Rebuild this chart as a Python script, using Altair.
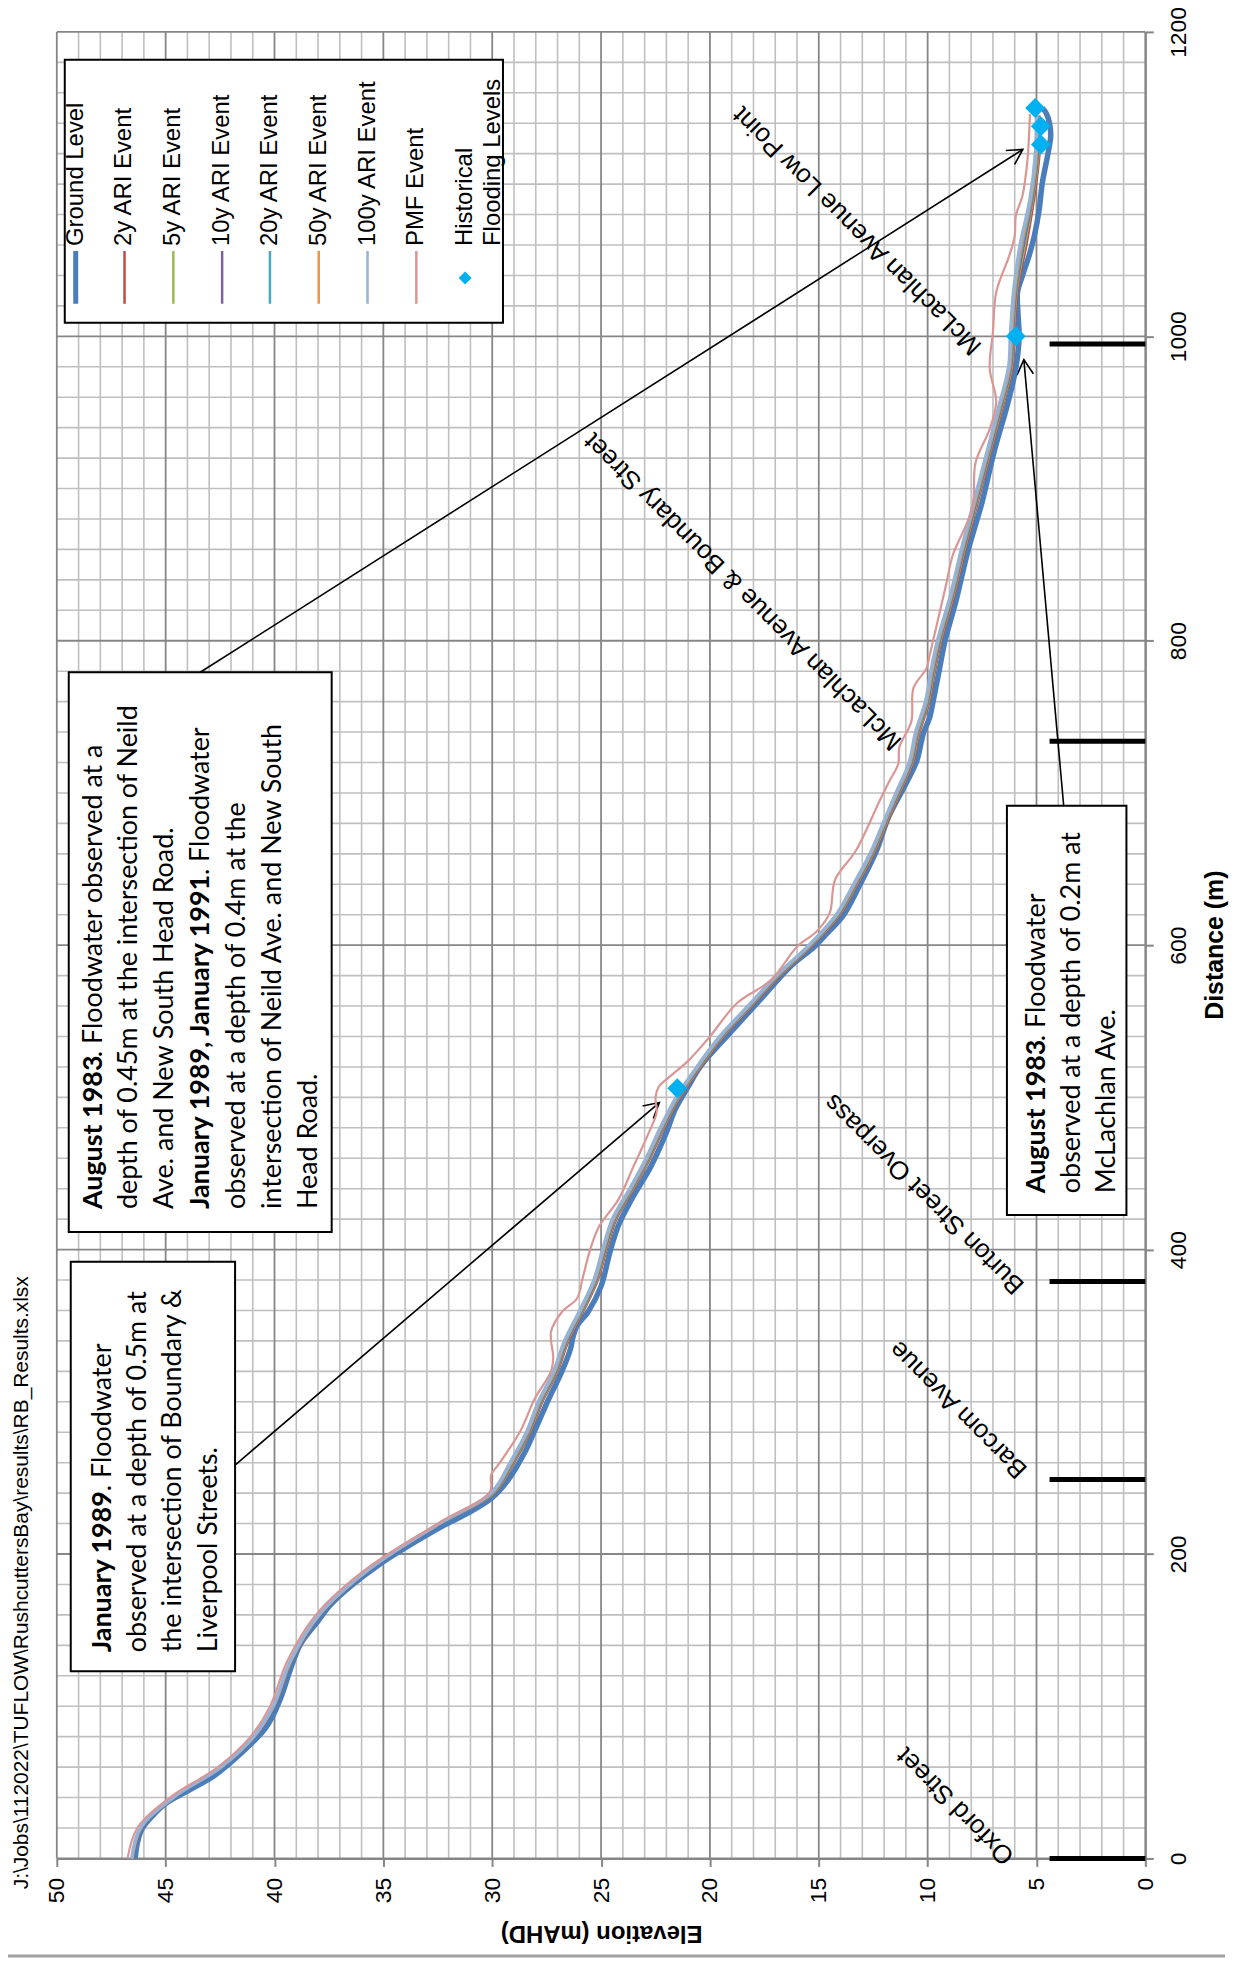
import math
import altair as alt
import pandas as pd

# ---------------- data ----------------
ground_dist = [0, 10, 19, 28, 36, 45, 54, 62, 75, 84, 93, 106, 123, 141, 156, 167, 180, 193, 204, 219,
               227, 237, 248, 267, 281, 302, 320, 335, 342, 350, 359, 376, 398, 416, 433, 455, 477, 492, 507, 521,
               542, 564, 586, 599, 608, 619, 640, 662, 684, 706, 721, 733, 739, 750, 760, 782, 800, 826, 859, 891,
               924, 957, 979, 1000, 1015, 1029, 1040, 1053, 1066, 1083, 1101, 1118, 1131, 1140, 1147, 1150]
ground_elev = [46.4, 46.3, 46.1, 45.6, 45.0, 43.9, 42.8, 42.1, 41.1, 40.5, 40.1, 39.7, 39.3, 38.8, 38.0, 37.4, 36.4, 35.2, 34.0, 32.2,
               31.1, 30.0, 29.3, 28.5, 28.05, 27.4, 26.8, 26.4, 26.3, 26.1, 25.6, 25.0, 24.6, 24.2, 23.6, 22.7, 22.0, 21.6, 21.0, 20.4,
               19.1, 17.7, 16.3, 15.2, 14.6, 13.9, 13.1, 12.35, 11.8, 11.0, 10.5, 10.3, 10.2, 9.9, 9.75, 9.45, 9.2, 8.7, 8.15, 7.5,
               6.95, 6.3, 5.95, 5.8, 5.85, 5.87, 5.64, 5.34, 5.1, 4.88, 4.73, 4.5, 4.35, 4.4, 4.57, 4.73]

flood_dist = [0, 20, 40, 60, 80, 100, 130, 160, 190, 220, 240, 260, 280, 300, 320, 340, 360, 380, 400, 420,
              440, 460, 480, 500, 520, 540, 560, 580, 600, 620, 640, 660, 680, 700, 720, 740, 760, 780, 800, 830,
              860, 890, 920, 950, 980, 1000, 1030, 1060, 1090, 1120, 1145]
ari_2y = [46.48, 46.08, 44.58, 42.38, 40.88, 39.98, 39.18, 37.88, 35.58, 32.32, 29.87, 28.98, 28.23, 27.68, 26.98, 26.48, 25.78, 25.13, 24.73, 24.28,
          23.48, 22.73, 22.08, 21.35, 20.40, 19.35, 18.05, 16.75, 15.25, 14.00, 13.20, 12.45, 11.85, 11.25, 10.65, 10.35, 9.90, 9.65, 9.35, 8.75,
          8.25, 7.70, 7.15, 6.60, 6.08, 6.00, 5.85, 5.45, 5.10, 4.85, 4.85]
ari_5y = [46.50, 46.10, 44.60, 42.40, 40.90, 40.00, 39.20, 37.90, 35.60, 32.34, 29.90, 29.02, 28.27, 27.72, 27.02, 26.52, 25.82, 25.17, 24.77, 24.32,
          23.52, 22.77, 22.12, 21.39, 20.44, 19.39, 18.09, 16.79, 15.29, 14.04, 13.24, 12.49, 11.89, 11.29, 10.69, 10.39, 9.94, 9.69, 9.39, 8.79,
          8.29, 7.74, 7.19, 6.64, 6.12, 6.04, 5.89, 5.52, 5.15, 4.89, 4.88]
ari_10y = [46.51, 46.11, 44.61, 42.41, 40.91, 40.01, 39.21, 37.91, 35.61, 32.36, 29.93, 29.05, 28.30, 27.75, 27.05, 26.55, 25.85, 25.20, 24.80, 24.35,
           23.55, 22.80, 22.15, 21.42, 20.47, 19.42, 18.12, 16.82, 15.32, 14.07, 13.27, 12.52, 11.92, 11.32, 10.72, 10.42, 9.97, 9.72, 9.42, 8.82,
           8.32, 7.77, 7.22, 6.67, 6.15, 6.07, 5.92, 5.57, 5.18, 4.92, 4.91]
ari_20y = [46.52, 46.12, 44.62, 42.42, 40.92, 40.02, 39.22, 37.92, 35.62, 32.38, 29.96, 29.08, 28.33, 27.78, 27.08, 26.58, 25.88, 25.23, 24.83, 24.38,
           23.58, 22.83, 22.18, 21.45, 20.50, 19.45, 18.15, 16.85, 15.35, 14.10, 13.30, 12.55, 11.95, 11.35, 10.75, 10.45, 10.00, 9.75, 9.45, 8.85,
           8.35, 7.80, 7.25, 6.70, 6.18, 6.10, 5.95, 5.62, 5.21, 4.95, 4.94]
ari_50y = [46.53, 46.13, 44.63, 42.43, 40.93, 40.03, 39.23, 37.93, 35.63, 32.40, 29.99, 29.11, 28.36, 27.81, 27.11, 26.61, 25.91, 25.26, 24.86, 24.41,
           23.61, 22.86, 22.21, 21.48, 20.53, 19.48, 18.18, 16.88, 15.38, 14.13, 13.33, 12.58, 11.98, 11.38, 10.78, 10.48, 10.03, 9.78, 9.48, 8.88,
           8.38, 7.83, 7.28, 6.73, 6.21, 6.13, 5.98, 5.67, 5.24, 4.98, 4.97]
ari_100y = [46.56, 46.16, 44.66, 42.46, 40.96, 40.06, 39.26, 37.96, 35.66, 32.44, 30.05, 29.18, 28.43, 27.88, 27.18, 26.68, 25.98, 25.33, 24.93, 24.48,
            23.68, 22.93, 22.28, 21.55, 20.60, 19.55, 18.25, 16.95, 15.45, 14.20, 13.40, 12.65, 12.05, 11.45, 10.85, 10.55, 10.10, 9.85, 9.55, 8.95,
            8.45, 7.90, 7.35, 6.80, 6.28, 6.20, 6.05, 5.75, 5.30, 5.05, 5.00]

pmf_dist = [0, 20, 40, 60, 80, 100, 130, 160, 190, 220, 241, 252, 259, 281, 302, 320, 329, 346, 359, 368, 381,
            400, 415, 433, 455, 477, 490, 500, 507, 513, 524, 540, 562, 577, 599, 609, 621, 643, 662, 695, 708,
            719, 730, 747, 769, 782, 791, 837, 856, 887, 917, 939, 957, 979, 1003, 1029, 1053, 1066, 1079, 1092, 1105,
            1118, 1146]
pmf_elev = [46.75, 46.3, 44.8, 42.6, 41.1, 40.2, 39.4, 38.1, 35.8, 32.5, 30.1, 30.05, 29.7, 28.7, 28.05, 27.3, 27.2, 27.3, 26.8, 26.1, 25.85,
            25.5, 25.1, 24.2, 23.5, 22.8, 22.45, 22.5, 22.35, 21.9, 21.0, 20.0, 18.75, 17.2, 16.0, 15.1, 14.5, 14.25, 13.3, 12.2, 11.75,
            11.35, 11.3, 10.75, 10.65, 10.05, 9.9, 9.15, 8.85, 7.95, 7.8, 7.15, 6.85, 7.15, 7.0, 6.85, 6.25, 6.0, 5.95, 5.65, 5.5,
            5.4, 5.3]

hist_dist = [506, 1000, 1126, 1138, 1150]
hist_elev = [21.5, 5.95, 4.8, 4.8, 5.06]

road_names = ["Oxford Street", "Barcom Avenue", "Burton Street Overpass",
              "McLachlan Avenue & Boundary Street", "McLachlan Avenue Low Point"]
road_dist = [0, 249, 379, 734, 995]

series_names = ["Ground Level", "2y ARI Event", "5y ARI Event", "10y ARI Event", "20y ARI Event",
                "50y ARI Event", "100y ARI Event", "PMF Event"]
series_dist = [ground_dist, flood_dist, flood_dist, flood_dist, flood_dist, flood_dist, flood_dist, pmf_dist]
series_elev = [ground_elev, ari_2y, ari_5y, ari_10y, ari_20y, ari_50y, ari_100y, pmf_elev]

elev_ticks = list(range(0, 51, 5))
dist_ticks = list(range(0, 1201, 200))

box1_lines = [("January 1989", ". Floodwater"), ("", "observed at a depth of 0.5m at"),
              ("", "the intersection of Boundary &"), ("", "Liverpool Streets.")]
box2_lines = [("August 1983", ". Floodwater observed at a"), ("", "depth of 0.45m at the intersection of Neild"),
              ("", "Ave. and New South Head Road."), ("January 1989, January 1991", ". Floodwater"),
              ("", "observed at a depth of 0.4m at the"), ("", "intersection of Neild Ave. and New South"),
              ("", "Head Road.")]
box3_lines = [("August 1983", ". Floodwater"), ("", "observed at a depth of 0.2m at"), ("", "McLachlan Ave.")]

file_path = "J:\\Jobs\\112022\\TUFLOW\\RushcuttersBay\\results\\RB_Results.xlsx"

# ---------------- styles ----------------
series_colors = ["#4A7EBB", "#BE4B48", "#98B954", "#7D60A0", "#46AAC5", "#F69240", "#95B3D7", "#D99694"]
series_widths = [5.5, 1.8, 1.8, 1.8, 1.8, 1.8, 3.5, 2.2]
legend_widths = [5, 2.5, 2.5, 2.5, 2.5, 2.5, 2.5, 2.5]
HIST_COLOR = "#00B0F0"
SANS = "Liberation Sans"
BOXFONT = "Lato"
BOX_FS = 27
GRID_MINOR = "#BFBFBF"
GRID_MAJOR = "#868686"

# ---------------- layout (page pixels) ----------------
W, H = 1093, 1834
PL, PT = 57, 28


def e_at(px):
    return 50.0 - (px - PL) * 50.0 / W


def d_at(py):
    return 1200.0 - (py - PT) * 1200.0 / H


XS = alt.Scale(domain=[0, 50], reverse=True, nice=False, zero=False)
YS = alt.Scale(domain=[0, 1200], nice=False, zero=False)
XA = alt.Axis(values=elev_ticks, orient="bottom", labelAngle=270, labelAlign="right", labelBaseline="middle",
              labelFont=SANS, labelFontSize=23, labelColor="black", labelPadding=11, tickSize=8, tickWidth=2,
              tickColor=GRID_MAJOR, domainColor=GRID_MAJOR, domainWidth=2, grid=False, title=None,
              labelFlush=False, labelOverlap=False, format="d")
YA = alt.Axis(values=dist_ticks, orient="right", labelAngle=270, labelAlign="center", labelBaseline="top",
              labelFont=SANS, labelFontSize=23, labelColor="black", labelPadding=14, tickSize=8, tickWidth=2,
              tickColor=GRID_MAJOR, domainColor=GRID_MAJOR, domainWidth=2, grid=False, title=None,
              labelFlush=False, labelOverlap=False, format="d")


def X(f):
    return alt.X(f, type="quantitative", scale=XS, axis=XA)


def Y(f):
    return alt.Y(f, type="quantitative", scale=YS, axis=YA)


layers = []

# grid
minor_e = [v for v in range(0, 51) if v % 5 != 0]
major_e = [v for v in range(0, 51, 5)]
minor_d = [v for v in range(0, 1201, 20) if v % 200 != 0]
major_d = [v for v in range(0, 1201, 200)]
layers.append(alt.Chart(pd.DataFrame({"e": minor_e})).mark_rule(color=GRID_MINOR, strokeWidth=1.6).encode(x=X("e")))
layers.append(alt.Chart(pd.DataFrame({"d": minor_d})).mark_rule(color=GRID_MINOR, strokeWidth=1.6).encode(y=Y("d")))
layers.append(alt.Chart(pd.DataFrame({"e": major_e})).mark_rule(color=GRID_MAJOR, strokeWidth=1.8).encode(x=X("e")))
layers.append(alt.Chart(pd.DataFrame({"d": major_d})).mark_rule(color=GRID_MAJOR, strokeWidth=1.8).encode(y=Y("d")))

# road location markers
mk = pd.DataFrame({"d": road_dist, "e1": [4.4] * len(road_dist), "e2": [0.0] * len(road_dist)})
layers.append(alt.Chart(mk).mark_rule(color="black", strokeWidth=5).encode(x=X("e1"), x2="e2:Q", y=Y("d")))

# road labels
lab_px = [(1014, 1864), (1027, 1476), (1024, 1291), (901, 745), (981, 348)]
rl = pd.DataFrame({"t": road_names, "e": [e_at(p[0]) for p in lab_px], "d": [d_at(p[1]) for p in lab_px]})
layers.append(alt.Chart(rl).mark_text(angle=225, align="left", baseline="middle", font=SANS, fontSize=26,
                                      color="black").encode(x=X("e"), y=Y("d"), text="t:N"))

# annotation boxes
boxes_px = [(71, 1263, 236, 1674), (69, 671, 333, 1233), (1011, 805, 1131, 1216)]
bx = pd.DataFrame({"e1": [e_at(b[0]) for b in boxes_px], "e2": [e_at(b[2]) for b in boxes_px],
                   "d1": [d_at(b[3]) for b in boxes_px], "d2": [d_at(b[1]) for b in boxes_px]})
layers.append(alt.Chart(bx).mark_rect(fill="white", stroke="black", strokeWidth=2).encode(
    x=X("e1"), x2="e2:Q", y=Y("d1"), y2="d2:Q"))

BOLD_W = {"J": 0.40, "a": 0.51, "n": 0.57, "u": 0.57, "r": 0.39, "y": 0.52, " ": 0.20, "1": 0.58, "9": 0.58,
          "8": 0.58, "3": 0.58, ",": 0.24, "A": 0.69, "g": 0.52, "s": 0.41, "t": 0.37}


def bold_width(s):
    return sum(BOLD_W.get(c, 0.55) for c in s) * BOX_FS


rows_b, rows_r = [], []
for lines, x0, sp, ystart in [(box1_lines, 103, 35.5, 1655), (box2_lines, 94, 36, 1210), (box3_lines, 1041, 35.5, 1194)]:
    for i, (b, r) in enumerate(lines):
        px = x0 + i * sp
        off = 0.0
        if b:
            rows_b.append({"t": b, "e": e_at(px), "d": d_at(ystart)})
            off = bold_width(b)
        rows_r.append({"t": r, "e": e_at(px), "d": d_at(ystart - off)})
layers.append(alt.Chart(pd.DataFrame(rows_b)).mark_text(angle=270, align="left", baseline="middle", font=BOXFONT,
                                                        fontSize=BOX_FS, fontWeight="bold", color="black").encode(
    x=X("e"), y=Y("d"), text="t:N"))
layers.append(alt.Chart(pd.DataFrame(rows_r)).mark_text(angle=270, align="left", baseline="middle", font=BOXFONT,
                                                        fontSize=BOX_FS, color="black").encode(
    x=X("e"), y=Y("d"), text="t:N"))

# arrows
arrows_px = [((236, 1467), (662, 1103)), ((201, 671), (1027, 146)), ((1068, 805), (1028, 357))]
ar = pd.DataFrame({"e1": [e_at(a[0][0]) for a in arrows_px], "d1": [d_at(a[0][1]) for a in arrows_px],
                   "e2": [e_at(a[1][0]) for a in arrows_px], "d2": [d_at(a[1][1]) for a in arrows_px]})
layers.append(alt.Chart(ar).mark_rule(color="black", strokeWidth=1.6).encode(x=X("e1"), x2="e2:Q", y=Y("d1"), y2="d2:Q"))
for (s, t) in arrows_px:
    ang = math.degrees(math.atan2(t[1] - s[1], t[0] - s[0])) % 360
    layers.append(alt.Chart(pd.DataFrame({"e": [e_at(t[0])], "d": [d_at(t[1])]})).mark_point(
        shape="M-1,-0.55L0,0L-1,0.55", filled=False, stroke="black", strokeWidth=1.6, size=900, angle=ang,
        opacity=1).encode(x=X("e"), y=Y("d")))

# legend
LX = [76, 125, 174, 223, 271, 320, 369, 418]
lb = pd.DataFrame({"e1": [e_at(65)], "e2": [e_at(505)], "d1": [d_at(320)], "d2": [d_at(56)]})
layers.append(alt.Chart(lb).mark_rect(fill="white", stroke="black", strokeWidth=2).encode(
    x=X("e1"), x2="e2:Q", y=Y("d1"), y2="d2:Q"))
for i, name in enumerate(series_names):
    ld = pd.DataFrame({"e": [e_at(LX[i])], "d1": [d_at(301)], "d2": [d_at(248)]})
    layers.append(alt.Chart(ld).mark_rule(color=series_colors[i], strokeWidth=legend_widths[i]).encode(
        x=X("e"), y=Y("d1"), y2="d2:Q"))
leg_text = series_names + ["Historical", "Flooding Levels"]
leg_x = LX + [467, 495]
lt = pd.DataFrame({"t": leg_text, "e": [e_at(v) for v in leg_x], "d": [d_at(243)] * len(leg_text)})
layers.append(alt.Chart(lt).mark_text(angle=270, align="left", baseline="middle", font=SANS, fontSize=24,
                                      color="black").encode(x=X("e"), y=Y("d"), text="t:N"))
layers.append(alt.Chart(pd.DataFrame({"e": [e_at(467)], "d": [d_at(275)]})).mark_point(
    shape="diamond", filled=True, color=HIST_COLOR, size=170, opacity=1).encode(x=X("e"), y=Y("d")))

# data series
for i, name in enumerate(series_names):
    df = pd.DataFrame({"d": series_dist[i], "e": series_elev[i]})
    df["i"] = range(len(df))
    layers.append(alt.Chart(df).mark_line(color=series_colors[i], strokeWidth=series_widths[i],
                                          interpolate="catmull-rom").encode(
        x=X("e"), y=Y("d"), order="i:Q"))
layers.append(alt.Chart(pd.DataFrame({"d": hist_dist, "e": hist_elev})).mark_point(
    shape="diamond", filled=True, color=HIST_COLOR, size=400, opacity=1).encode(x=X("e"), y=Y("d")))

# titles and extra text
layers.append(alt.Chart(pd.DataFrame({"t": ["Distance (m)"]})).mark_text(
    angle=270, align="center", baseline="middle", font=SANS, fontSize=25, fontWeight="bold", color="black").encode(
    x=alt.value(1220 - PL), y=alt.value(945 - PT), text="t:N"))
layers.append(alt.Chart(pd.DataFrame({"t": ["Elevation (mAHD)"]})).mark_text(
    angle=180, align="center", baseline="middle", font=SANS, fontSize=24, fontWeight="bold", color="black").encode(
    x=alt.value(604 - PL), y=alt.value(1937 - PT), text="t:N"))
layers.append(alt.Chart(pd.DataFrame({"t": [file_path]})).mark_text(
    angle=270, align="left", baseline="middle", font=SANS, fontSize=21, color="black").encode(
    x=alt.value(22 - PL), y=alt.value(1893 - PT), text="t:N"))
layers.append(alt.Chart(pd.DataFrame({"a": [0]})).mark_rule(color="#A0A0A0", strokeWidth=3).encode(
    x=alt.value(8 - PL), x2=alt.value(1230 - PL), y=alt.value(1960 - PT)))

chart = alt.layer(*layers).properties(
    width=W, height=H,
    padding={"left": PL - 8, "top": PT - 8, "right": 86, "bottom": 100},
    autosize=alt.AutoSizeParams(type="none"),
    background="white",
).configure_view(stroke=None)

chart.save("out.html", embed_options={"renderer": "svg", "actions": False})
